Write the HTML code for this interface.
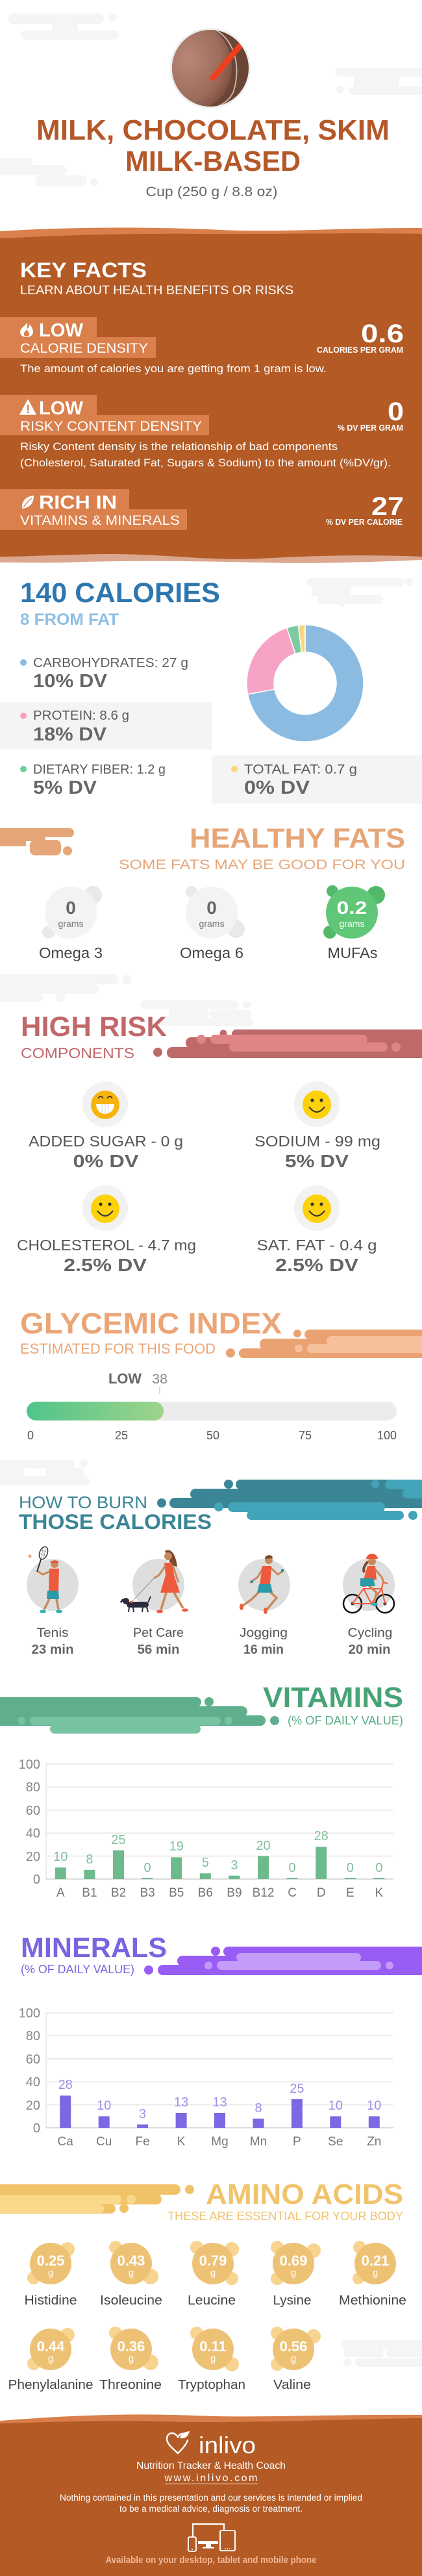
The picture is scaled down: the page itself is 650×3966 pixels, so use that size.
<!DOCTYPE html>
<html><head><meta charset="utf-8">
<style>
html,body{margin:0;padding:0;background:#fff;}
svg{display:block;}
text{font-family:"Liberation Sans",Arial,sans-serif;}
.b{font-weight:bold;}
</style></head><body>
<svg width="650" height="3966" viewBox="0 0 650 3966" xmlns="http://www.w3.org/2000/svg">
<defs>
<clipPath id="cimg"><circle cx="324" cy="105" r="59"/></clipPath>
<radialGradient id="milk" cx="0.35" cy="0.4" r="0.7"><stop offset="0" stop-color="#b98878"/><stop offset="0.7" stop-color="#9d6c5b"/><stop offset="1" stop-color="#7b4e3e"/></radialGradient>
<linearGradient id="gi" x1="0" x2="1"><stop offset="0" stop-color="#51c48b"/><stop offset="1" stop-color="#9dd48a"/></linearGradient>
</defs>
<rect width="650" height="3966" fill="#fff"/>

<!-- header clouds -->
<g fill="#f5f5f5">
<rect x="12" y="21" width="148" height="16" rx="8"/><rect x="32" y="47" width="151" height="14" rx="7"/><rect x="80" y="30" width="40" height="22"/><circle cx="174" cy="27" r="6"/>
<rect x="517" y="105" width="150" height="13" rx="6.5"/><rect x="545" y="116" width="70" height="18"/><rect x="537" y="133" width="130" height="13" rx="6.5"/><circle cx="524" cy="138" r="6"/>
<rect x="-10" y="243" width="60" height="13" rx="6.5"/><rect x="-10" y="254" width="112" height="16" rx="8"/><rect x="54" y="270" width="80" height="17" rx="8.5"/><circle cx="145" cy="280" r="6"/>
</g>

<!-- food image -->
<circle cx="324" cy="105" r="62" fill="#eeeeee"/>
<g clip-path="url(#cimg)">
<rect x="264" y="45" width="120" height="120" fill="#6a4535"/>
<ellipse cx="305" cy="103" rx="52" ry="64" fill="url(#milk)"/>
<path d="M330,45 C360,60 372,100 360,140 C352,160 330,170 300,168" fill="none" stroke="#e4d6cf" stroke-width="2" opacity="0.75"/>
<line x1="328" y1="120" x2="380" y2="58" stroke="#ef3e1c" stroke-width="9" stroke-linecap="round"/>
</g>

<text x="328" y="215" text-anchor="middle" class="b" font-size="44" fill="#b4582a" textLength="544" lengthAdjust="spacingAndGlyphs">MILK, CHOCOLATE, SKIM</text>
<text x="328" y="263" text-anchor="middle" class="b" font-size="44" fill="#b4582a" textLength="270" lengthAdjust="spacingAndGlyphs">MILK-BASED</text>
<text x="326" y="302" text-anchor="middle" font-size="21" fill="#666" textLength="203" lengthAdjust="spacingAndGlyphs">Cup (250 g / 8.8 oz)</text>

<!-- KEY FACTS -->
<path d="M0,356 C110,349 230,349 340,354 C430,358 520,351 650,351 L650,380 L0,380 Z" fill="#d9804c"/>
<path d="M0,845 L650,845 L650,862 C560,866 480,868 400,866 C300,864 200,862 100,866 C60,867 30,866 0,866 Z" fill="#dba78e"/>
<path d="M0,367 C100,362 200,359 300,360 C420,361 520,358 650,360 L650,857 C560,853 470,856 400,860 C320,864 250,852 160,853 C90,854 40,857 0,857 Z" fill="#b35a25"/>

<text x="31" y="427" class="b" font-size="32" fill="#fff" textLength="195" lengthAdjust="spacingAndGlyphs">KEY FACTS</text>
<text x="31" y="453" font-size="19.5" fill="#fff" textLength="421" lengthAdjust="spacingAndGlyphs">LEARN ABOUT HEALTH BENEFITS OR RISKS</text>

<rect x="0" y="488" width="149" height="32" fill="#d9804c"/>
<rect x="0" y="519" width="240" height="32" fill="#d9804c"/>
<path d="M42,497 C36,503 31,507 31,511 C31,516 35,519 41,519 C47,519 51,516 51,511 C51,506 48,503 46,499 C45,503 44,505 42,506 C41,503 43,500 42,497 Z" fill="#fff"/>
<path d="M41,518 C38,518 36,516 37,513 C38,510 41,509 41,507 C43,510 45,512 45,514 C45,517 43,518 41,518 Z" fill="#d9804c"/>
<text x="60" y="518" class="b" font-size="28.5" fill="#fff" textLength="68" lengthAdjust="spacingAndGlyphs">LOW</text>
<text x="31" y="543" font-size="21" fill="#fff" textLength="197" lengthAdjust="spacingAndGlyphs">CALORIE DENSITY</text>
<text x="622" y="527" text-anchor="end" class="b" font-size="40" fill="#fff" textLength="66" lengthAdjust="spacingAndGlyphs">0.6</text>
<text x="621" y="543" text-anchor="end" class="b" font-size="12.5" fill="#fff" textLength="133" lengthAdjust="spacingAndGlyphs">CALORIES PER GRAM</text>
<text x="31" y="573" font-size="17" fill="#fff" textLength="472" lengthAdjust="spacingAndGlyphs">The amount of calories you are getting from 1 gram is low.</text>

<rect x="0" y="608" width="149" height="32" fill="#d9804c"/>
<rect x="0" y="639" width="322" height="31" fill="#d9804c"/>
<path d="M43,616 L55,638 L31,638 Z" fill="#fff" stroke="#fff" stroke-width="1.5" stroke-linejoin="round"/>
<rect x="41.8" y="623" width="2.6" height="9" fill="#d9804c"/><circle cx="43.1" cy="634.8" r="1.5" fill="#d9804c"/>
<text x="60" y="638" class="b" font-size="28.5" fill="#fff" textLength="68" lengthAdjust="spacingAndGlyphs">LOW</text>
<text x="31" y="663" font-size="21" fill="#fff" textLength="280" lengthAdjust="spacingAndGlyphs">RISKY CONTENT DENSITY</text>
<text x="622" y="647" text-anchor="end" class="b" font-size="40" fill="#fff" textLength="25" lengthAdjust="spacingAndGlyphs">0</text>
<text x="621" y="663" text-anchor="end" class="b" font-size="12.5" fill="#fff" textLength="101" lengthAdjust="spacingAndGlyphs">% DV PER GRAM</text>
<text x="31" y="693" font-size="17" fill="#fff" textLength="489" lengthAdjust="spacingAndGlyphs">Risky Content density is the relationship of bad components</text>
<text x="31" y="718" font-size="17" fill="#fff" textLength="571" lengthAdjust="spacingAndGlyphs">(Cholesterol, Saturated Fat, Sugars &amp; Sodium) to the amount (%DV/gr).</text>

<rect x="0" y="753" width="199" height="32" fill="#d9804c"/>
<rect x="0" y="784" width="288" height="32" fill="#d9804c"/>
<path d="M52,763 C40,764 33,771 34,783 C46,782 52,775 52,763 Z" fill="#fff"/>
<path d="M36,781 C40,775 44,771 49,767" stroke="#d9804c" stroke-width="1.2" fill="none"/>
<text x="60" y="783" class="b" font-size="28.5" fill="#fff" textLength="120" lengthAdjust="spacingAndGlyphs">RICH  IN</text>
<text x="31" y="808" font-size="21" fill="#fff" textLength="246" lengthAdjust="spacingAndGlyphs">VITAMINS &amp; MINERALS</text>
<text x="622" y="793" text-anchor="end" class="b" font-size="40" fill="#fff" textLength="50" lengthAdjust="spacingAndGlyphs">27</text>
<text x="620" y="808" text-anchor="end" class="b" font-size="12.5" fill="#fff" textLength="118" lengthAdjust="spacingAndGlyphs">% DV PER CALORIE</text>

<!-- CALORIES -->
<g fill="#f5f5f5">
<rect x="473" y="890" width="150" height="13" rx="6.5"/><circle cx="630" cy="896" r="6"/><rect x="480" y="902" width="60" height="16"/><rect x="490" y="916" width="100" height="14" rx="7"/><circle cx="527" cy="928" r="6"/>
</g>
<text x="31" y="927" class="b" font-size="43" fill="#2e77ae" textLength="308" lengthAdjust="spacingAndGlyphs">140 CALORIES</text>
<text x="31" y="962" class="b" font-size="25" fill="#8fbfe3" textLength="152" lengthAdjust="spacingAndGlyphs">8 FROM FAT</text>

<g stroke="#fff" stroke-width="1.5">
<path d="M470,962 A90,90 0 1 1 381.59,1068.87 L422.85,1061.0 A48,48 0 1 0 470,1004 Z" fill="#8bbbe0"/>
<path d="M381.59,1068.87 A90,90 0 0 1 441.83,966.53 L454.98,1006.41 A48,48 0 0 0 422.85,1061.0 Z" fill="#f7a3c6"/>
<path d="M441.83,966.53 A90,90 0 0 1 459.47,962.62 L464.38,1004.33 A48,48 0 0 0 454.98,1006.41 Z" fill="#7ccba0"/>
<path d="M459.47,962.62 A90,90 0 0 1 470,962 L470,1004 A48,48 0 0 0 464.38,1004.33 Z" fill="#f9d77e"/>
</g>

<circle cx="36" cy="1020" r="5" fill="#8bbbe0"/>
<text x="51" y="1027" font-size="20" fill="#5c5c5c" textLength="239" lengthAdjust="spacingAndGlyphs">CARBOHYDRATES: 27 g</text>
<text x="51" y="1058" class="b" font-size="29" fill="#666" textLength="114" lengthAdjust="spacingAndGlyphs">10% DV</text>
<rect x="0" y="1081" width="326" height="73" fill="#f4f4f4"/>
<circle cx="36" cy="1102" r="5" fill="#f7a1c4"/>
<text x="51" y="1108" font-size="20" fill="#5c5c5c" textLength="148" lengthAdjust="spacingAndGlyphs">PROTEIN: 8.6 g</text>
<text x="51" y="1140" class="b" font-size="29" fill="#666" textLength="113" lengthAdjust="spacingAndGlyphs">18% DV</text>
<circle cx="36" cy="1184" r="5" fill="#6ccf9b"/>
<text x="51" y="1191" font-size="20" fill="#5c5c5c" textLength="204" lengthAdjust="spacingAndGlyphs">DIETARY FIBER: 1.2 g</text>
<text x="51" y="1222" class="b" font-size="29" fill="#666" textLength="98" lengthAdjust="spacingAndGlyphs">5% DV</text>
<rect x="326" y="1163" width="324" height="74" fill="#f4f4f4"/>
<circle cx="361" cy="1184" r="5" fill="#fad67a"/>
<text x="376" y="1191" font-size="20" fill="#5c5c5c" textLength="174" lengthAdjust="spacingAndGlyphs">TOTAL FAT: 0.7 g</text>
<text x="376" y="1222" class="b" font-size="29" fill="#666" textLength="101" lengthAdjust="spacingAndGlyphs">0% DV</text>

<!-- HEALTHY FATS -->
<g fill="#e6a679">
<rect x="-10" y="1275" width="124" height="14" rx="7"/><rect x="0" y="1287" width="40" height="16"/><rect x="46" y="1293" width="48" height="24" rx="8"/><rect x="40" y="1287" width="30" height="8"/><circle cx="104" cy="1310" r="7"/>
</g>
<rect x="40" y="1295" width="6" height="8" fill="#fff"/>
<text x="624" y="1305" text-anchor="end" class="b" font-size="43" fill="#e6a679" textLength="332" lengthAdjust="spacingAndGlyphs">HEALTHY FATS</text>
<text x="624" y="1338" text-anchor="end" font-size="21" fill="#e6a679" textLength="441" lengthAdjust="spacingAndGlyphs">SOME FATS MAY BE GOOD FOR YOU</text>

<g fill="#e9e9e9"><circle cx="143" cy="1378" r="14"/><circle cx="75" cy="1435" r="10"/><circle cx="295" cy="1373" r="9"/><circle cx="363" cy="1430" r="14"/></g>
<circle cx="109" cy="1405" r="40" fill="#f3f3f3"/>
<circle cx="326" cy="1405" r="40" fill="#f3f3f3"/>
<g fill="#54b86a"><circle cx="512" cy="1372" r="9"/><circle cx="579" cy="1378" r="14"/><circle cx="508" cy="1435" r="10"/></g>
<circle cx="542" cy="1405" r="40" fill="#5fc777"/>
<text x="109" y="1407" text-anchor="middle" class="b" font-size="28" fill="#666">0</text>
<text x="109" y="1427" text-anchor="middle" font-size="14" fill="#777">grams</text>
<text x="326" y="1407" text-anchor="middle" class="b" font-size="28" fill="#666">0</text>
<text x="326" y="1427" text-anchor="middle" font-size="14" fill="#777">grams</text>
<text x="542" y="1407" text-anchor="middle" class="b" font-size="28" fill="#fff" textLength="47" lengthAdjust="spacingAndGlyphs">0.2</text>
<text x="542" y="1427" text-anchor="middle" font-size="14" fill="#fff">grams</text>
<text x="109" y="1475" text-anchor="middle" font-size="23" fill="#444" textLength="98" lengthAdjust="spacingAndGlyphs">Omega 3</text>
<text x="326" y="1475" text-anchor="middle" font-size="23" fill="#444" textLength="98" lengthAdjust="spacingAndGlyphs">Omega 6</text>
<text x="543" y="1475" text-anchor="middle" font-size="23" fill="#444" textLength="77" lengthAdjust="spacingAndGlyphs">MUFAs</text>

<!-- HIGH RISK -->
<g fill="#f5f5f5">
<rect x="-10" y="1500" width="193" height="15" rx="7.5"/><circle cx="195" cy="1508" r="7"/><rect x="0" y="1514" width="95" height="16"/><rect x="60" y="1515" width="92" height="15" rx="7.5"/><rect x="-10" y="1529" width="75" height="14" rx="7"/><circle cx="93" cy="1536" r="7"/>
<rect x="216" y="1540" width="152" height="14" rx="7"/><circle cx="380" cy="1547" r="6"/><rect x="260" y="1553" width="60" height="14"/><rect x="322" y="1555" width="66" height="12" rx="6"/><rect x="240" y="1567" width="150" height="13" rx="6.5"/>
</g>
<text x="32" y="1595" class="b" font-size="43" fill="#c0686a" textLength="225" lengthAdjust="spacingAndGlyphs">HIGH RISK</text>
<text x="32" y="1629" font-size="22" fill="#c0686a" textLength="175" lengthAdjust="spacingAndGlyphs">COMPONENTS</text>
<g fill="#bf6a6a">
<rect x="357" y="1585" width="310" height="14" rx="7"/><circle cx="344" cy="1591" r="5.5"/>
<rect x="286" y="1597" width="380" height="17" rx="8"/>
<rect x="257" y="1612" width="410" height="17" rx="8"/><circle cx="243" cy="1620" r="7"/>
</g>
<g fill="#e08585">
<rect x="324" y="1593" width="242" height="14" rx="7"/><rect x="353" y="1605" width="244" height="14" rx="7"/><circle cx="610" cy="1612" r="7"/><circle cx="310" cy="1600" r="7"/>
</g>

<g fill="#f2f2f2"><circle cx="162" cy="1700" r="35"/><circle cx="488" cy="1700" r="35"/><circle cx="162" cy="1860" r="35"/><circle cx="488" cy="1860" r="35"/></g>
<!-- grin face -->
<circle cx="162" cy="1701" r="22" fill="#f7b40f"/>
<path d="M151,1691 Q155,1685 159,1691 M165,1691 Q169,1685 173,1691" stroke="#333" stroke-width="1.8" fill="none"/>
<path d="M148,1700 L176,1700 Q175,1714 162,1715 Q149,1714 148,1700 Z" fill="#fff"/>
<path d="M157,1700 L157,1714 M162,1700 L162,1715 M167,1700 L167,1714" stroke="#ddd" stroke-width="1.2"/>
<!-- smiles -->
<g>
<circle cx="488" cy="1701" r="22" fill="#fdd20b"/><circle cx="481" cy="1694" r="2.6" fill="#333"/><circle cx="495" cy="1694" r="2.6" fill="#333"/><path d="M476,1704 Q488,1720 500,1704" stroke="#333" stroke-width="2" fill="none"/>
<circle cx="162" cy="1861" r="22" fill="#fdd20b"/><circle cx="155" cy="1854" r="2.6" fill="#333"/><circle cx="169" cy="1854" r="2.6" fill="#333"/><path d="M150,1864 Q162,1880 174,1864" stroke="#333" stroke-width="2" fill="none"/>
<circle cx="488" cy="1861" r="22" fill="#fdd20b"/><circle cx="481" cy="1854" r="2.6" fill="#333"/><circle cx="495" cy="1854" r="2.6" fill="#333"/><path d="M476,1864 Q488,1880 500,1864" stroke="#333" stroke-width="2" fill="none"/>
</g>
<text x="163" y="1765" text-anchor="middle" font-size="23" fill="#555" textLength="238" lengthAdjust="spacingAndGlyphs">ADDED SUGAR - 0 g</text>
<text x="163" y="1797" text-anchor="middle" class="b" font-size="28" fill="#666" textLength="101" lengthAdjust="spacingAndGlyphs">0% DV</text>
<text x="489" y="1765" text-anchor="middle" font-size="23" fill="#555" textLength="194" lengthAdjust="spacingAndGlyphs">SODIUM - 99 mg</text>
<text x="488" y="1797" text-anchor="middle" class="b" font-size="28" fill="#666" textLength="98" lengthAdjust="spacingAndGlyphs">5% DV</text>
<text x="164" y="1925" text-anchor="middle" font-size="23" fill="#555" textLength="276" lengthAdjust="spacingAndGlyphs">CHOLESTEROL - 4.7 mg</text>
<text x="162" y="1957" text-anchor="middle" class="b" font-size="28" fill="#666" textLength="128" lengthAdjust="spacingAndGlyphs">2.5% DV</text>
<text x="488" y="1925" text-anchor="middle" font-size="23" fill="#555" textLength="185" lengthAdjust="spacingAndGlyphs">SAT. FAT - 0.4 g</text>
<text x="488" y="1957" text-anchor="middle" class="b" font-size="28" fill="#666" textLength="128" lengthAdjust="spacingAndGlyphs">2.5% DV</text>

<!-- GLYCEMIC -->
<text x="31" y="2053" class="b" font-size="45" fill="#eba577" textLength="403" lengthAdjust="spacingAndGlyphs">GLYCEMIC INDEX</text>
<text x="31" y="2084" font-size="22" fill="#eba577" textLength="301" lengthAdjust="spacingAndGlyphs">ESTIMATED FOR THIS FOOD</text>
<g fill="#eba272">
<rect x="469" y="2047" width="200" height="15" rx="7.5"/><circle cx="458" cy="2053" r="6"/>
<rect x="400" y="2061" width="270" height="17" rx="8"/>
<rect x="368" y="2076" width="300" height="15" rx="7.5"/><circle cx="355" cy="2083" r="7"/>
</g>
<g fill="#f6c09c">
<rect x="503" y="2057" width="160" height="15" rx="7.5"/><rect x="473" y="2069" width="190" height="14" rx="7"/><circle cx="460" cy="2076" r="6"/>
</g>
<text x="167" y="2130" class="b" font-size="22" fill="#666" textLength="51" lengthAdjust="spacingAndGlyphs">LOW</text>
<text x="234" y="2130" font-size="21" fill="#888" textLength="24" lengthAdjust="spacingAndGlyphs">38</text>
<line x1="246" y1="2135" x2="246" y2="2146" stroke="#ccc" stroke-width="1.5"/>
<rect x="41" y="2158" width="570" height="29" rx="14.5" fill="#ececec"/>
<rect x="41" y="2158" width="211" height="29" rx="14.5" fill="url(#gi)"/>
<g font-size="18" fill="#555" text-anchor="middle">
<text x="47" y="2216">0</text><text x="187" y="2216">25</text><text x="328" y="2216">50</text><text x="470" y="2216">75</text><text x="596" y="2216">100</text>
</g>

<!-- HOW TO BURN -->
<g fill="#f5f5f5">
<rect x="-10" y="2247" width="125" height="14" rx="7"/><circle cx="129" cy="2253" r="6"/><rect x="-10" y="2260" width="48" height="14" rx="7"/><rect x="70" y="2260" width="60" height="14" rx="7"/><rect x="-10" y="2273" width="148" height="14" rx="7"/>
</g>
<g fill="#3b8696">
<rect x="363" y="2278" width="300" height="15" rx="7.5"/><circle cx="352" cy="2285" r="7"/>
<rect x="293" y="2292" width="370" height="16" rx="8"/>
<rect x="261" y="2306" width="400" height="16" rx="8"/><circle cx="249" cy="2314" r="7"/>
</g>
<g fill="#43a4b9">
<rect x="593" y="2278" width="70" height="15" rx="7.5"/><circle cx="578" cy="2285" r="6"/>
<rect x="620" y="2292" width="40" height="15" rx="7.5"/>
<rect x="351" y="2313" width="242" height="15" rx="7.5"/><circle cx="337" cy="2320" r="7"/>
<rect x="380" y="2326" width="242" height="14" rx="7"/><circle cx="636" cy="2333" r="7"/>
</g>
<text x="29" y="2322" font-size="26" fill="#3b8596" textLength="198" lengthAdjust="spacingAndGlyphs">HOW TO BURN</text>
<text x="29" y="2354" class="b" font-size="32" fill="#3b8596" textLength="297" lengthAdjust="spacingAndGlyphs">THOSE CALORIES</text>

<g fill="#dedede"><circle cx="81" cy="2440" r="40"/><circle cx="244" cy="2440" r="40"/><circle cx="407" cy="2440" r="40"/><circle cx="568" cy="2440" r="40"/></g>
<!-- tennis -->
<g>
<ellipse cx="67" cy="2391" rx="6" ry="10" transform="rotate(20 67 2391)" fill="#fff" stroke="#333" stroke-width="1.5"/>
<path d="M63,2386 L71,2389 M62,2392 L70,2395 M66,2383 L64,2399 M70,2384 L67,2400" stroke="#888" stroke-width="0.7"/>
<line x1="63" y1="2401" x2="57" y2="2420" stroke="#333" stroke-width="2"/>
<circle cx="46" cy="2396" r="2.5" fill="#f0a27a"/>
<path d="M80,2418 L66,2424 L58,2419" stroke="#c98a5b" stroke-width="3" fill="none"/>
<path d="M76,2415 L91,2415 L90,2450 L75,2450 Z" fill="#ee5a3c"/>
<path d="M73,2449 L90,2449 L91,2462 L72,2462 Z" fill="#2a9aa7"/>
<path d="M76,2462 L68,2478 M87,2462 L90,2478" stroke="#c98a5b" stroke-width="3.5"/>
<circle cx="84" cy="2408" r="6" fill="#c98a5b"/>
<rect x="78" y="2403" width="12" height="3" fill="#e9523a"/>
<ellipse cx="66" cy="2481" rx="5" ry="2.5" fill="#2bb0b8"/><ellipse cx="91" cy="2481" rx="5" ry="2.5" fill="#2bb0b8"/>
</g>
<!-- pet care -->
<g>
<path d="M254,2388 C264,2382 271,2395 273,2412 L264,2410 Z" fill="#7a4a2c"/>
<circle cx="259" cy="2396" r="6" fill="#c98a5b"/>
<path d="M256,2452 L248,2478 M268,2452 L282,2476" stroke="#c98a5b" stroke-width="3.5"/>
<path d="M253,2406 L265,2406 L268,2425 L277,2452 L247,2452 L255,2425 Z" fill="#ee5a3c"/>
<path d="M255,2410 L245,2425 L237,2430" stroke="#c98a5b" stroke-width="3" fill="none"/>
<path d="M266,2410 L272,2428 L275,2436" stroke="#c98a5b" stroke-width="3" fill="none"/>
<ellipse cx="246" cy="2481" rx="5" ry="2.5" fill="#ee5a3c"/><ellipse cx="285" cy="2479" rx="5" ry="2.5" fill="#ee5a3c"/>
<line x1="237" y1="2430" x2="203" y2="2466" stroke="#777" stroke-width="0.8"/>
<rect x="195" y="2466" width="34" height="9" rx="4.5" fill="#2b2d3d"/>
<circle cx="194" cy="2465" r="5" fill="#2b2d3d"/><path d="M190,2462 L186,2467" stroke="#2b2d3d" stroke-width="3"/>
<path d="M199,2474 L198,2482 M205,2474 L206,2482 M220,2474 L219,2482 M226,2474 L228,2482 M228,2467 L232,2458" stroke="#2b2d3d" stroke-width="2"/>
<rect x="200" y="2465" width="4" height="3" fill="#ee5a3c"/>
</g>
<!-- jogging -->
<g>
<path d="M417,2414 L428,2424 L437,2418" stroke="#c98a5b" stroke-width="3" fill="none"/>
<path d="M405,2414 L397,2428 L385,2437" stroke="#c98a5b" stroke-width="3" fill="none"/>
<path d="M400,2450 L388,2462 L374,2472 M415,2450 L426,2460 L411,2478" stroke="#c98a5b" stroke-width="3.5" fill="none"/>
<path d="M404,2411 L418,2411 L416,2440 L400,2440 Z" fill="#ee5a3c"/>
<path d="M399,2439 L417,2439 L420,2452 L396,2452 Z" fill="#2a9aa7"/>
<circle cx="414" cy="2402" r="6" fill="#c98a5b"/>
<path d="M408,2400 C408,2393 420,2392 420,2399 Z" fill="#7a4a2c"/>
<rect x="433" y="2416" width="4" height="4" fill="#2a9aa7"/><rect x="386" y="2433" width="4" height="4" fill="#2a9aa7"/>
<ellipse cx="372" cy="2474" rx="3" ry="5" fill="#ee5a3c"/><ellipse cx="409" cy="2480" rx="3" ry="5" fill="#ee5a3c"/>
</g>
<!-- cycling -->
<g>
<circle cx="543" cy="2469" r="14" fill="none" stroke="#111" stroke-width="2.5"/>
<circle cx="593" cy="2469" r="14" fill="none" stroke="#111" stroke-width="2.5"/>
<circle cx="543" cy="2469" r="2.5" fill="#333"/><circle cx="593" cy="2469" r="2.5" fill="#333"/>
<path d="M543,2469 L560,2446 L588,2446 L593,2469 M560,2446 L572,2469 L588,2446 M572,2469 L543,2469 M588,2446 L590,2436 L597,2438 M558,2442 L564,2442" stroke="#ee5a3c" stroke-width="2" fill="none"/>
<path d="M576,2414 L588,2428 L591,2436" stroke="#c98a5b" stroke-width="3" fill="none"/>
<path d="M567,2440 L580,2452 L576,2468" stroke="#c98a5b" stroke-width="3.5" fill="none"/>
<path d="M566,2411 L578,2411 L580,2432 L560,2432 Z" fill="#ee5a3c"/>
<path d="M555,2430 L575,2430 L578,2442 L555,2442 Z" fill="#2a9aa7"/>
<path d="M567,2404 C561,2410 559,2416 561,2421" stroke="#7a4a2c" stroke-width="4" fill="none"/>
<circle cx="573" cy="2404" r="6" fill="#c98a5b"/>
<path d="M564,2400 A9,8 0 0 1 582,2400 Z" fill="#ee5a3c"/>
<ellipse cx="577" cy="2470" rx="5" ry="2.5" fill="#2bb0b8"/>
</g>
<g font-size="19" fill="#555" text-anchor="middle">
<text x="81" y="2520" textLength="49" lengthAdjust="spacingAndGlyphs">Tenis</text>
<text x="244" y="2520" textLength="78" lengthAdjust="spacingAndGlyphs">Pet Care</text>
<text x="406" y="2520" textLength="74" lengthAdjust="spacingAndGlyphs">Jogging</text>
<text x="570" y="2520" textLength="69" lengthAdjust="spacingAndGlyphs">Cycling</text>
</g>
<g font-size="20" fill="#666" text-anchor="middle" font-weight="bold">
<text x="81" y="2546" textLength="65" lengthAdjust="spacingAndGlyphs">23 min</text>
<text x="244" y="2546" textLength="65" lengthAdjust="spacingAndGlyphs">56 min</text>
<text x="406" y="2546" textLength="62" lengthAdjust="spacingAndGlyphs">16 min</text>
<text x="569" y="2546" textLength="65" lengthAdjust="spacingAndGlyphs">20 min</text>
</g>

<!-- VITAMINS -->
<g fill="#5fae8c">
<rect x="-10" y="2613" width="320" height="15" rx="7.5"/><circle cx="322" cy="2620" r="7"/>
<rect x="-10" y="2627" width="391" height="16" rx="8"/>
<rect x="-10" y="2641" width="419" height="16" rx="8"/><circle cx="423" cy="2649" r="7"/>
</g>
<g fill="#76c2a1">
<rect x="46" y="2643" width="294" height="13" rx="6.5"/><circle cx="33" cy="2649" r="6"/><circle cx="352" cy="2649" r="6"/>
<rect x="77" y="2655" width="232" height="14" rx="7"/>
</g>
<text x="621" y="2628" text-anchor="end" class="b" font-size="44" fill="#48a377" textLength="216" lengthAdjust="spacingAndGlyphs">VITAMINS</text>
<text x="621" y="2655" text-anchor="end" font-size="18" fill="#5aad85" textLength="178" lengthAdjust="spacingAndGlyphs">(% OF DAILY VALUE)</text>

<g stroke="#e6e6e6" stroke-width="1.5">
<line x1="71" y1="2716" x2="606" y2="2716"/><line x1="71" y1="2751.4" x2="606" y2="2751.4"/><line x1="71" y1="2786.8" x2="606" y2="2786.8"/><line x1="71" y1="2822.2" x2="606" y2="2822.2"/><line x1="71" y1="2857.6" x2="606" y2="2857.6"/>
<line x1="71" y1="2716" x2="71" y2="2893"/>
</g>
<line x1="71" y1="2893" x2="606" y2="2893" stroke="#d0d0d0" stroke-width="1.5"/>
<g font-size="20" fill="#888" text-anchor="end">
<text x="62" y="2723">100</text><text x="62" y="2758">80</text><text x="62" y="2794">60</text><text x="62" y="2829">40</text><text x="62" y="2865">20</text><text x="62" y="2900">0</text>
</g>
<g fill="#6dbb8c">
<rect x="84.8" y="2875.3" width="17" height="17.7"/>
<rect x="129.4" y="2878.8" width="17" height="14.2"/>
<rect x="174" y="2848.75" width="17" height="44.25"/>
<rect x="218.6" y="2891" width="17" height="2"/>
<rect x="263.2" y="2859.4" width="17" height="33.6"/>
<rect x="307.8" y="2884.2" width="17" height="8.8"/>
<rect x="352.4" y="2887.7" width="17" height="5.3"/>
<rect x="397" y="2857.6" width="17" height="35.4"/>
<rect x="441.6" y="2891" width="17" height="2"/>
<rect x="486.2" y="2843.4" width="17" height="49.6"/>
<rect x="530.8" y="2891" width="17" height="2"/>
<rect x="575.4" y="2891" width="17" height="2"/>
</g>
<g font-size="20" fill="#7fc09a" text-anchor="middle">
<text x="93.3" y="2865">10</text><text x="137.9" y="2869">8</text><text x="182.5" y="2839">25</text><text x="227.1" y="2882">0</text><text x="271.7" y="2849">19</text><text x="316.3" y="2874">5</text><text x="360.9" y="2878">3</text><text x="405.5" y="2848">20</text><text x="450.1" y="2882">0</text><text x="494.7" y="2833">28</text><text x="539.3" y="2882">0</text><text x="583.9" y="2882">0</text>
</g>
<g font-size="19" fill="#777" text-anchor="middle">
<text x="93.3" y="2920">A</text><text x="137.9" y="2920">B1</text><text x="182.5" y="2920">B2</text><text x="227.1" y="2920">B3</text><text x="271.7" y="2920">B5</text><text x="316.3" y="2920">B6</text><text x="360.9" y="2920">B9</text><text x="405.5" y="2920">B12</text><text x="450.1" y="2920">C</text><text x="494.7" y="2920">D</text><text x="539.3" y="2920">E</text><text x="583.9" y="2920">K</text>
</g>

<!-- MINERALS -->
<text x="32" y="3013" class="b" font-size="43" fill="#7b64e0" textLength="225" lengthAdjust="spacingAndGlyphs">MINERALS</text>
<text x="32" y="3038" font-size="18" fill="#7b64e0" textLength="175" lengthAdjust="spacingAndGlyphs">(% OF DAILY VALUE)</text>
<g fill="#995cf4">
<rect x="344" y="2997" width="320" height="15" rx="7.5"/><circle cx="332" cy="3004" r="7"/>
<rect x="273" y="3011" width="390" height="16" rx="8"/>
<rect x="243" y="3025" width="420" height="16" rx="8"/><circle cx="229" cy="3033" r="7"/>
</g>
<g fill="#c39bf9">
<rect x="364" y="3007" width="192" height="13" rx="6.5"/>
<rect x="334" y="3019" width="253" height="14" rx="7"/><circle cx="321" cy="3026" r="6"/><circle cx="600" cy="3026" r="6"/>
</g>
<g stroke="#e6e6e6" stroke-width="1.5">
<line x1="71" y1="3099" x2="606" y2="3099"/><line x1="71" y1="3134.4" x2="606" y2="3134.4"/><line x1="71" y1="3169.8" x2="606" y2="3169.8"/><line x1="71" y1="3205.2" x2="606" y2="3205.2"/><line x1="71" y1="3240.6" x2="606" y2="3240.6"/>
<line x1="71" y1="3099" x2="71" y2="3276"/>
</g>
<line x1="71" y1="3276" x2="606" y2="3276" stroke="#d0d0d0" stroke-width="1.5"/>
<g font-size="20" fill="#888" text-anchor="end">
<text x="62" y="3106">100</text><text x="62" y="3141">80</text><text x="62" y="3177">60</text><text x="62" y="3212">40</text><text x="62" y="3248">20</text><text x="62" y="3283">0</text>
</g>
<g fill="#7c68e3">
<rect x="92.2" y="3226.4" width="17" height="49.6"/>
<rect x="151.7" y="3258.3" width="17" height="17.7"/>
<rect x="211.1" y="3270.7" width="17" height="5.3"/>
<rect x="270.6" y="3253" width="17" height="23"/>
<rect x="330" y="3253" width="17" height="23"/>
<rect x="389.5" y="3261.8" width="17" height="14.2"/>
<rect x="448.9" y="3231.75" width="17" height="44.25"/>
<rect x="508.3" y="3258.3" width="17" height="17.7"/>
<rect x="567.8" y="3258.3" width="17" height="17.7"/>
</g>
<g font-size="20" fill="#9d8ee9" text-anchor="middle">
<text x="100.7" y="3216">28</text><text x="160.2" y="3248">10</text><text x="219.6" y="3261">3</text><text x="279.1" y="3243">13</text><text x="338.5" y="3243">13</text><text x="398" y="3252">8</text><text x="457.4" y="3222">25</text><text x="516.8" y="3248">10</text><text x="576.3" y="3248">10</text>
</g>
<g font-size="19" fill="#777" text-anchor="middle">
<text x="100.7" y="3303">Ca</text><text x="160.2" y="3303">Cu</text><text x="219.6" y="3303">Fe</text><text x="279.1" y="3303">K</text><text x="338.5" y="3303">Mg</text><text x="398" y="3303">Mn</text><text x="457.4" y="3303">P</text><text x="516.8" y="3303">Se</text><text x="576.3" y="3303">Zn</text>
</g>

<!-- AMINO ACIDS -->
<g fill="#f0c368">
<rect x="-10" y="3363" width="288" height="16" rx="8"/><circle cx="292" cy="3371" r="7"/>
<rect x="-10" y="3378" width="259" height="16" rx="8"/>
<rect x="-10" y="3393" width="188" height="15" rx="7.5"/><circle cx="191" cy="3400" r="7"/>
</g>
<g fill="#fbd88a">
<rect x="-10" y="3379" width="197" height="14" rx="7"/><circle cx="202" cy="3386" r="7"/>
<rect x="-10" y="3393" width="170" height="14" rx="7"/>
</g>
<text x="621" y="3393" text-anchor="end" class="b" font-size="44" fill="#efc46c" textLength="304" lengthAdjust="spacingAndGlyphs">AMINO ACIDS</text>
<text x="621" y="3418" text-anchor="end" font-size="18.5" fill="#eec36c" textLength="363" lengthAdjust="spacingAndGlyphs">THESE ARE ESSENTIAL FOR YOUR BODY</text>

<g fill="#f7d490">
<circle cx="104" cy="3463" r="11"/><circle cx="52" cy="3507" r="10"/>
<circle cx="178" cy="3460" r="10"/><circle cx="232" cy="3505" r="12"/>
<circle cx="303" cy="3460" r="10"/><circle cx="357" cy="3463" r="11"/><circle cx="357" cy="3508" r="10"/>
<circle cx="427" cy="3460" r="10"/><circle cx="483" cy="3465" r="11"/><circle cx="427" cy="3508" r="10"/>
<circle cx="554" cy="3460" r="10"/><circle cx="552" cy="3508" r="9"/>
<circle cx="104" cy="3595" r="11"/><circle cx="52" cy="3639" r="10"/>
<circle cx="178" cy="3592" r="10"/><circle cx="232" cy="3637" r="12"/>
<circle cx="303" cy="3592" r="10"/><circle cx="357" cy="3640" r="11"/>
<circle cx="427" cy="3592" r="10"/><circle cx="483" cy="3597" r="11"/><circle cx="427" cy="3640" r="10"/>
</g>
<g fill="#edc274">
<circle cx="78" cy="3485" r="32"/><circle cx="202" cy="3485" r="32"/><circle cx="328" cy="3485" r="32"/><circle cx="452" cy="3485" r="32"/><circle cx="578" cy="3485" r="32"/>
<circle cx="78" cy="3617" r="32"/><circle cx="202" cy="3617" r="32"/><circle cx="328" cy="3617" r="32"/><circle cx="452" cy="3617" r="32"/>
</g>
<g font-size="22" fill="#fff" text-anchor="middle" font-weight="bold">
<text x="78" y="3488">0.25</text><text x="202" y="3488">0.43</text><text x="328" y="3488">0.79</text><text x="452" y="3488">0.69</text><text x="578" y="3488">0.21</text>
<text x="78" y="3620">0.44</text><text x="202" y="3620">0.36</text><text x="328" y="3620">0.11</text><text x="452" y="3620">0.56</text>
</g>
<g font-size="15" fill="#fff" text-anchor="middle">
<text x="78" y="3504">g</text><text x="202" y="3504">g</text><text x="328" y="3504">g</text><text x="452" y="3504">g</text><text x="578" y="3504">g</text>
<text x="78" y="3636">g</text><text x="202" y="3636">g</text><text x="328" y="3636">g</text><text x="452" y="3636">g</text>
</g>
<g font-size="20" fill="#444" text-anchor="middle">
<text x="78" y="3548" textLength="81" lengthAdjust="spacingAndGlyphs">Histidine</text>
<text x="202" y="3548" textLength="96" lengthAdjust="spacingAndGlyphs">Isoleucine</text>
<text x="326" y="3548" textLength="74" lengthAdjust="spacingAndGlyphs">Leucine</text>
<text x="450" y="3548" textLength="59" lengthAdjust="spacingAndGlyphs">Lysine</text>
<text x="574" y="3548" textLength="104" lengthAdjust="spacingAndGlyphs">Methionine</text>
<text x="78" y="3678" textLength="131" lengthAdjust="spacingAndGlyphs">Phenylalanine</text>
<text x="201" y="3678" textLength="96" lengthAdjust="spacingAndGlyphs">Threonine</text>
<text x="326" y="3678" textLength="104" lengthAdjust="spacingAndGlyphs">Tryptophan</text>
<text x="450" y="3678" textLength="58" lengthAdjust="spacingAndGlyphs">Valine</text>
</g>
<g fill="#f5f5f5">
<rect x="525" y="3602" width="140" height="14" rx="7"/><rect x="530" y="3615" width="60" height="14"/><rect x="595" y="3615" width="70" height="14" rx="7"/><rect x="547" y="3630" width="120" height="14" rx="7"/><circle cx="535" cy="3637" r="6"/>
</g>

<!-- FOOTER -->
<path d="M0,3727 C100,3719 200,3715 300,3719 C400,3723 500,3717 650,3718 L650,3966 L0,3966 Z" fill="#d97d4b"/>
<path d="M0,3731 C80,3729 150,3726 250,3728 C350,3731 450,3727 550,3725 C600,3724 630,3723 650,3723 L650,3966 L0,3966 Z" fill="#b35a25"/>
<path d="M274,3777 C265,3769 257,3762 257,3755 C257,3749 261,3746 265,3746 C269,3746 272,3749 274,3752 C276,3749 279,3746 283,3747" fill="none" stroke="#fff" stroke-width="2.5" stroke-linecap="round"/>
<path d="M274,3777 C280,3771 287,3764 289,3757" fill="none" stroke="#fff" stroke-width="2.5" stroke-linecap="round"/>
<path d="M277,3753 C279,3747 284,3744 292,3743 C290,3751 285,3755 278,3754 Z" fill="#fff"/>
<text x="306" y="3777" font-size="36" fill="#fff" textLength="88" lengthAdjust="spacingAndGlyphs">inlivo</text>
<text x="325" y="3801" text-anchor="middle" font-size="15.5" fill="#fff" textLength="230" lengthAdjust="spacingAndGlyphs">Nutrition Tracker &amp; Health Coach</text>
<text x="325" y="3820" text-anchor="middle" font-size="16" fill="#fff" textLength="143" lengthAdjust="spacing">www.inlivo.com</text>
<line x1="254" y1="3824" x2="397" y2="3824" stroke="#fff" stroke-width="0.8" opacity="0.8"/>
<text x="325" y="3850" text-anchor="middle" font-size="13.5" fill="#fff" textLength="466" lengthAdjust="spacingAndGlyphs">Nothing contained in this presentation and our services is intended or implied</text>
<text x="325" y="3867" text-anchor="middle" font-size="13.5" fill="#fff" textLength="282" lengthAdjust="spacingAndGlyphs">to be a medical advice, diagnosis or treatment.</text>
<g>
<path d="M297,3912 L297,3886 L345,3886 L345,3896" fill="none" stroke="#fff" stroke-width="2.2"/>
<rect x="305" y="3912" width="31" height="5" fill="#fff"/>
<rect x="317" y="3917" width="8" height="4" fill="#fff"/>
<rect x="312" y="3921" width="18" height="2.5" fill="#fff"/>
<rect x="290" y="3906" width="12" height="22" rx="2" fill="#b35a25" stroke="#fff" stroke-width="1.8"/>
<rect x="339" y="3896" width="23" height="31" rx="2" fill="#b35a25" stroke="#fff" stroke-width="2"/>
<circle cx="296" cy="3925" r="1" fill="#fff"/>
<circle cx="347" cy="3924" r="0.9" fill="#fff"/><circle cx="350.5" cy="3924" r="0.9" fill="#fff"/><circle cx="354" cy="3924" r="0.9" fill="#fff"/>
</g>
<text x="325" y="3946" text-anchor="middle" class="b" font-size="14.5" fill="#f2b898" textLength="325" lengthAdjust="spacingAndGlyphs">Available on your desktop, tablet and mobile phone</text>
</svg>
</body></html>
